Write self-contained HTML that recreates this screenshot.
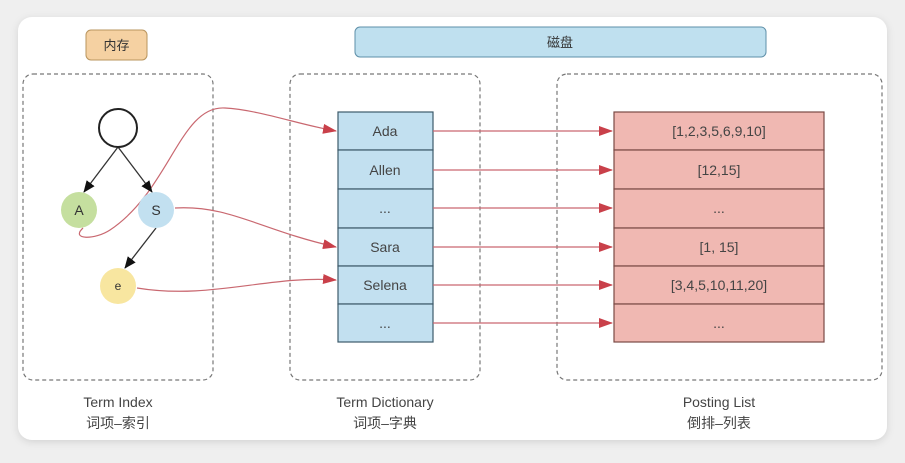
<!DOCTYPE html>
<html><head><meta charset="utf-8"><style>
body{margin:0;width:905px;height:458px;background:#efefef;overflow:hidden;font-family:"Liberation Sans","Noto Sans CJK SC",sans-serif}
</style></head><body>
<svg width="905" height="458" xmlns="http://www.w3.org/2000/svg" font-family="Liberation Sans, Noto Sans CJK SC, sans-serif">
<defs>
<marker id="r" markerWidth="14" markerHeight="10" refX="13" refY="5" orient="auto" markerUnits="userSpaceOnUse"><path d="M0,0L14,5L0,10z" fill="#c9404a"/></marker>
<marker id="b" markerWidth="12" markerHeight="10" refX="11" refY="5" orient="auto" markerUnits="userSpaceOnUse"><path d="M0,0L12,5L0,10z" fill="#111"/></marker>
<filter id="sh"><feDropShadow dx="0" dy="2" stdDeviation="4" flood-opacity="0.12"/></filter>
</defs>
<rect x="18" y="17" width="869" height="423" rx="14" fill="#fff" filter="url(#sh)"/>
<rect x="86" y="30" width="61" height="30" rx="5" fill="#f5d1a2" stroke="#b9955e"/>
<text x="116.5" y="50" font-size="13" text-anchor="middle" fill="#333">内存</text>
<rect x="355" y="27" width="411" height="30" rx="5" fill="#bfe0ef" stroke="#5e8fa8"/>
<text x="560" y="47" font-size="13" text-anchor="middle" fill="#333">磁盘</text>
<g fill="none" stroke="#777" stroke-dasharray="4,3" stroke-width="1.2">
<rect x="23" y="74" width="190" height="306" rx="10"/>
<rect x="290" y="74" width="190" height="306" rx="10"/>
<rect x="557" y="74" width="325" height="306" rx="10"/>
</g>
<g font-size="14" text-anchor="middle" fill="#444">
<text x="118" y="407">Term Index</text><text x="118" y="428">词项–索引</text>
<text x="385" y="407">Term Dictionary</text><text x="385" y="428">词项–字典</text>
<text x="719" y="407">Posting List</text><text x="719" y="428">倒排–列表</text>
</g>
<g stroke="#3d5a6a" stroke-width="1.2" fill="#c2e0f0">
<rect x="338" y="112" width="95" height="38"/><rect x="338" y="150" width="95" height="39"/><rect x="338" y="189" width="95" height="39"/><rect x="338" y="228" width="95" height="38"/><rect x="338" y="266" width="95" height="38"/><rect x="338" y="304" width="95" height="38"/>
</g>
<g stroke="#7a4a45" stroke-width="1.2" fill="#f0b8b2">
<rect x="614" y="112" width="210" height="38"/><rect x="614" y="150" width="210" height="39"/><rect x="614" y="189" width="210" height="39"/><rect x="614" y="228" width="210" height="38"/><rect x="614" y="266" width="210" height="38"/><rect x="614" y="304" width="210" height="38"/>
</g>
<g font-size="14" text-anchor="middle" fill="#444">
<text x="385" y="136">Ada</text><text x="385" y="175">Allen</text><text x="385" y="213">...</text><text x="385" y="252">Sara</text><text x="385" y="290">Selena</text><text x="385" y="328">...</text>
<text x="719" y="136">[1,2,3,5,6,9,10]</text><text x="719" y="175">[12,15]</text><text x="719" y="213">...</text><text x="719" y="252">[1, 15]</text><text x="719" y="290">[3,4,5,10,11,20]</text><text x="719" y="328">...</text>
</g>
<g stroke="#c96870" stroke-width="1.2" fill="none" marker-end="url(#r)">
<path d="M433,131H612"/><path d="M433,170H612"/><path d="M433,208H612"/><path d="M433,247H612"/><path d="M433,285H612"/><path d="M433,323H612"/>
<path d="M83,228C70,240 95,240 110,230C170,190 180,105 225,108C260,110 300,125 336,131"/>
<path d="M175,208C230,205 260,230 336,247"/>
<path d="M137,288C210,300 270,275 336,280"/>
</g>
<g stroke="#333" stroke-width="1.3" marker-end="url(#b)">
<line x1="118" y1="147" x2="84" y2="192"/><line x1="118" y1="147" x2="152" y2="192"/><line x1="156" y1="228" x2="125" y2="268"/>
</g>
<circle cx="118" cy="128" r="19" fill="#fff" stroke="#222" stroke-width="2"/>
<circle cx="79" cy="210" r="18" fill="#c5df9f"/>
<circle cx="156" cy="210" r="18" fill="#c2e0f0"/>
<circle cx="118" cy="286" r="18" fill="#f8e6a0"/>
<g font-size="14" text-anchor="middle" fill="#333">
<text x="79" y="215">A</text><text x="156" y="215">S</text><text x="118" y="290" font-size="12">e</text>
</g>
</svg>
</body></html>
